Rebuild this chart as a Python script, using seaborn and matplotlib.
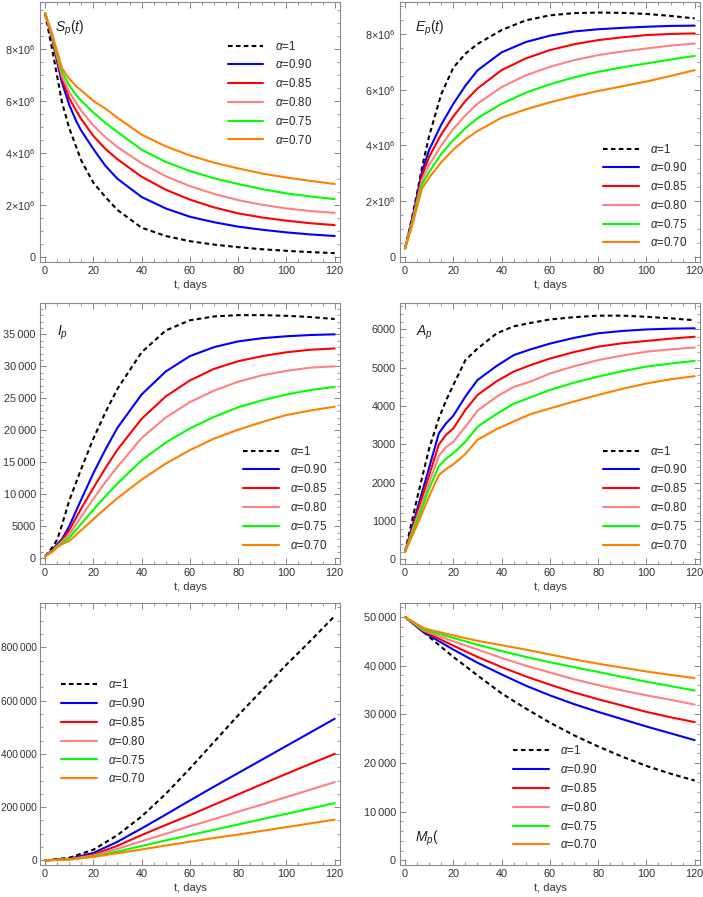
import pandas as pd
import matplotlib
matplotlib.use("Agg")
import matplotlib.pyplot as plt
from matplotlib.ticker import MultipleLocator, FuncFormatter
import seaborn as sns

# ---------- DATA ----------
LABELS = [r"$\alpha$=1", r"$\alpha$=0.90", r"$\alpha$=0.85",
          r"$\alpha$=0.80", r"$\alpha$=0.75", r"$\alpha$=0.70"]
COLORS = ["black", "#0000FF", "#FF0000", "#FF8080", "#00FF00", "#FF8000"]

# S_p(t), millions
T_S = [0, 3, 5, 7, 10, 13, 15, 20, 25, 30, 40, 50, 60, 70, 80, 90, 100, 110, 120]
S_100 = [9.37, 7.95, 6.95, 5.95, 4.95, 4.2, 3.7, 2.85, 2.3, 1.8, 1.12, 0.8, 0.6, 0.47, 0.37, 0.29, 0.23, 0.18, 0.14]
S_090 = [9.37, 8.35, 7.5, 6.7, 5.85, 5.2, 4.85, 4.15, 3.5, 3.0, 2.3, 1.86, 1.54, 1.33, 1.16, 1.04, 0.94, 0.86, 0.80]
S_085 = [9.37, 8.4, 7.6, 6.85, 6.1, 5.6, 5.3, 4.65, 4.15, 3.75, 3.08, 2.58, 2.2, 1.9, 1.67, 1.51, 1.39, 1.29, 1.22]
S_080 = [9.37, 8.45, 7.7, 6.96, 6.35, 5.9, 5.62, 5.05, 4.6, 4.22, 3.6, 3.1, 2.72, 2.42, 2.18, 2.0, 1.86, 1.76, 1.69]
S_075 = [9.37, 8.5, 7.8, 7.13, 6.6, 6.2, 6.0, 5.55, 5.15, 4.8, 4.12, 3.65, 3.3, 3.02, 2.8, 2.6, 2.44, 2.32, 2.22]
S_070 = [9.37, 8.55, 7.9, 7.25, 6.85, 6.55, 6.4, 6.0, 5.7, 5.35, 4.7, 4.25, 3.9, 3.62, 3.4, 3.2, 3.05, 2.92, 2.80]

# E_p(t), millions
T_E = [0, 3, 5, 7, 10, 15, 20, 25, 30, 40, 50, 60, 70, 80, 90, 100, 110, 120]
E_100 = [0.3, 1.45, 2.3, 3.2, 4.35, 5.85, 6.8, 7.3, 7.65, 8.15, 8.5, 8.68, 8.76, 8.78, 8.77, 8.73, 8.66, 8.57]
E_090 = [0.3, 1.35, 2.2, 3.05, 3.85, 4.75, 5.5, 6.15, 6.7, 7.35, 7.72, 7.95, 8.1, 8.18, 8.23, 8.27, 8.3, 8.31]
E_085 = [0.3, 1.3, 2.1, 2.9, 3.6, 4.4, 5.05, 5.6, 6.05, 6.71, 7.13, 7.43, 7.64, 7.79, 7.89, 7.97, 8.01, 8.03]
E_080 = [0.3, 1.25, 2.0, 2.75, 3.3, 4.0, 4.6, 5.08, 5.5, 6.1, 6.52, 6.83, 7.07, 7.25, 7.38, 7.49, 7.59, 7.67]
E_075 = [0.3, 1.2, 1.9, 2.6, 3.05, 3.7, 4.2, 4.62, 4.98, 5.5, 5.9, 6.2, 6.45, 6.65, 6.81, 6.95, 7.09, 7.22]
E_070 = [0.3, 1.15, 1.8, 2.45, 2.85, 3.4, 3.85, 4.22, 4.52, 5.0, 5.3, 5.55, 5.77, 5.96, 6.13, 6.3, 6.5, 6.71]

# I_p
T_I = [0, 3, 5, 7, 10, 15, 20, 25, 30, 40, 50, 60, 70, 80, 90, 100, 110, 120]
I_100 = [300, 1700, 2900, 5200, 9000, 14000, 18700, 22800, 26500, 32200, 35600, 37200, 37800, 38000, 38000, 37900, 37700, 37400]
I_090 = [300, 1300, 2200, 3000, 5000, 9200, 13300, 17000, 20400, 25600, 29200, 31600, 33000, 33900, 34400, 34700, 34900, 35000]
I_085 = [300, 1200, 2000, 2800, 4400, 7800, 11000, 14100, 17000, 21800, 25300, 27800, 29600, 30800, 31600, 32200, 32600, 32800]
I_080 = [300, 1150, 1900, 2600, 3700, 6500, 9300, 11900, 14300, 18800, 22000, 24400, 26200, 27600, 28600, 29300, 29800, 30000]
I_075 = [300, 1100, 1800, 2400, 3200, 5400, 7600, 9700, 11700, 15300, 18100, 20300, 22100, 23600, 24700, 25600, 26300, 26800]
I_070 = [300, 1000, 1700, 2200, 2700, 4400, 6100, 7800, 9400, 12300, 14800, 16900, 18700, 20100, 21300, 22400, 23100, 23700]

# A_p
T_A = [0, 5, 10, 14, 17, 20, 25, 30, 38, 45, 52, 60, 70, 80, 90, 100, 110, 120]
A_100 = [200, 1600, 2900, 3680, 4150, 4550, 5200, 5500, 5900, 6080, 6170, 6260, 6320, 6360, 6360, 6330, 6290, 6240]
A_090 = [200, 1300, 2400, 3290, 3550, 3750, 4250, 4680, 5050, 5330, 5480, 5630, 5780, 5900, 5960, 6000, 6020, 6030]
A_085 = [200, 1200, 2200, 3000, 3250, 3420, 3900, 4290, 4650, 4900, 5070, 5240, 5410, 5550, 5640, 5700, 5760, 5810]
A_080 = [200, 1100, 2000, 2700, 2930, 3070, 3460, 3880, 4250, 4500, 4640, 4850, 5040, 5200, 5320, 5420, 5480, 5530]
A_075 = [200, 1000, 1850, 2430, 2630, 2770, 3070, 3460, 3800, 4060, 4230, 4420, 4610, 4770, 4910, 5030, 5110, 5180]
A_070 = [200, 900, 1650, 2200, 2360, 2480, 2750, 3120, 3400, 3600, 3790, 3940, 4120, 4290, 4450, 4590, 4700, 4780]

# unnamed bottom-left panel
T_C = [0, 10, 20, 30, 40, 50, 60, 70, 80, 90, 100, 110, 120]
C_100 = [0, 10e3, 40e3, 95e3, 165e3, 250e3, 345e3, 445e3, 545e3, 640e3, 735e3, 825e3, 918e3]
C_090 = [0, 6e3, 28e3, 70e3, 120e3, 172e3, 225e3, 277e3, 328e3, 379e3, 430e3, 481e3, 532e3]
C_085 = [0, 5e3, 22e3, 55e3, 95e3, 133e3, 170e3, 209e3, 248e3, 287e3, 325e3, 363e3, 400e3]
C_080 = [0, 4e3, 18e3, 43e3, 72e3, 100e3, 128e3, 155e3, 183e3, 210e3, 238e3, 266e3, 294e3]
C_075 = [0, 4e3, 15e3, 33e3, 54e3, 75e3, 95e3, 115e3, 135e3, 155e3, 175e3, 195e3, 215e3]
C_070 = [0, 3e3, 13e3, 27e3, 41e3, 56e3, 70e3, 84e3, 97e3, 111e3, 125e3, 139e3, 153e3]

# M_p
T_M = [0, 5, 7.5, 10, 20, 30, 40, 50, 60, 70, 80, 90, 100, 110, 120]
M_100 = [50000, 48000, 47000, 45900, 41800, 38000, 34300, 31200, 28300, 25700, 23400, 21300, 19400, 17800, 16400]
M_090 = [50000, 47930, 46900, 46200, 43300, 40600, 38200, 35900, 33900, 32100, 30500, 29000, 27500, 26100, 24700]
M_085 = [50000, 48070, 47100, 46500, 44100, 41800, 39700, 37800, 36100, 34500, 33100, 31800, 30500, 29400, 28400]
M_080 = [50000, 48200, 47300, 46800, 45000, 43300, 41600, 40000, 38600, 37200, 36000, 34900, 33900, 33000, 32000]
M_075 = [50000, 48330, 47500, 47100, 45700, 44300, 43000, 41800, 40700, 39700, 38700, 37700, 36700, 35800, 34900]
M_070 = [50000, 48530, 47800, 47400, 46200, 45100, 44200, 43300, 42300, 41300, 40400, 39600, 38800, 38100, 37450]


# ---------- HELPERS ----------
def fmt_mill(v, pos):
    n = int(round(v / 1e6))
    return "0" if n == 0 else f"{n}×10$^{{6}}$"


def fmt_thou(v, pos):
    n = int(round(v))
    if abs(n) >= 10000:
        return f"{n:,}".replace(",", "\u2009")
    return str(n)


def long_df(t, series, scale=1.0):
    rows = []
    for lab, vals in zip(LABELS, series):
        for x, y in zip(t, vals):
            rows.append({"t": x, "value": y * scale, "alpha": lab})
    return pd.DataFrame(rows)


def panel(fig, rect, t, series, scale, ylim, major, minor, fmt, tag, tag_xy, leg_xy,
          ysize=7.8, ypad=3):
    ax = fig.add_axes(rect)
    df = long_df(t, series, scale)
    dashes = {lab: "" for lab in LABELS}
    dashes[LABELS[0]] = (2.2, 1.6)
    sns.lineplot(data=df, x="t", y="value", hue="alpha", style="alpha",
                 palette=dict(zip(LABELS, COLORS)), dashes=dashes,
                 estimator=None, sort=False, linewidth=1.5, ax=ax)
    ax.set_xlim(-2.1, 122.2)
    ax.set_ylim(*ylim)
    ax.xaxis.set_major_locator(MultipleLocator(20))
    ax.xaxis.set_minor_locator(MultipleLocator(5))
    ax.yaxis.set_major_locator(MultipleLocator(major))
    ax.yaxis.set_minor_locator(MultipleLocator(minor))
    ax.yaxis.set_major_formatter(FuncFormatter(fmt))
    ax.tick_params(which="both", direction="in", top=True, right=True,
                   color="#888888", labelcolor="#333333")
    ax.tick_params(axis="x", labelsize=7.8, pad=3)
    ax.tick_params(axis="y", labelsize=ysize, pad=ypad)
    ax.tick_params(which="major", length=4.5, width=0.7)
    ax.tick_params(which="minor", length=2.5, width=0.6)
    for s in ax.spines.values():
        s.set_color("#8a8a8a")
        s.set_linewidth(0.8)
    ax.set_xlabel("t, days", fontsize=8, color="#333333", labelpad=3)
    ax.set_ylabel("")
    if tag:
        ax.text(tag_xy[0], tag_xy[1], tag, transform=ax.transAxes,
                fontsize=10, va="center", ha="left", color="#222222")
    h, l = ax.get_legend_handles_labels()
    ax.legend(h, l, loc="upper left", bbox_to_anchor=leg_xy, frameon=False,
              fontsize=8.3, handlelength=3.1, handletextpad=1.0,
              labelspacing=0.5, borderpad=0, borderaxespad=0)
    return ax


# ---------- FIGURE ----------
sns.set_style("ticks")
plt.rcParams["font.family"] = ["Liberation Sans", "DejaVu Sans"]
plt.rcParams["mathtext.fontset"] = "custom"
plt.rcParams["mathtext.rm"] = "Liberation Sans"
plt.rcParams["mathtext.it"] = "Liberation Sans:italic"

fig = plt.figure(figsize=(7.03, 8.97), dpi=100)

LX, RX, W = 40 / 703, 400 / 703, 300 / 703
rows = [(1 - 262 / 897, 260 / 897), (1 - 564 / 897, 261 / 897), (1 - 865 / 897, 262 / 897)]

panel(fig, [LX, rows[0][0], W, rows[0][1]], T_S,
      [S_100, S_090, S_085, S_080, S_075, S_070], 1e6,
      (-0.2e6, 9.8e6), 2e6, 0.5e6, fmt_mill, r"$S_p(t)$", (0.05, 0.9), (0.625, 0.855))
panel(fig, [RX, rows[0][0], W, rows[0][1]], T_E,
      [E_100, E_090, E_085, E_080, E_075, E_070], 1e6,
      (-0.19e6, 9.16e6), 2e6, 0.5e6, fmt_mill, r"$E_p(t)$", (0.05, 0.9), (0.677, 0.459))
panel(fig, [LX, rows[1][0], W, rows[1][1]], T_I,
      [I_100, I_090, I_085, I_080, I_075, I_070], 1.0,
      (-890, 39900), 5000, 1000, fmt_thou, r"$I_p$", (0.057, 0.885), (0.676, 0.457))
panel(fig, [RX, rows[1][0], W, rows[1][1]], T_A,
      [A_100, A_090, A_085, A_080, A_075, A_070], 1.0,
      (-120, 6690), 1000, 200, fmt_thou, r"$A_p$", (0.053, 0.885), (0.677, 0.457))
panel(fig, [LX, rows[2][0], W, rows[2][1]], T_C,
      [C_100, C_090, C_085, C_080, C_075, C_070], 1.0,
      (-17300, 966800), 200000, 50000, fmt_thou, None, None, (0.07, 0.712),
      ysize=7.3, ypad=2)
panel(fig, [RX, rows[2][0], W, rows[2][1]], T_M,
      [M_100, M_090, M_085, M_080, M_075, M_070], 1.0,
      (-950, 52870), 10000, 2000, fmt_thou, r"$M_p($", (0.05, 0.10), (0.377, 0.46))

fig.savefig("out.png", dpi=100)
